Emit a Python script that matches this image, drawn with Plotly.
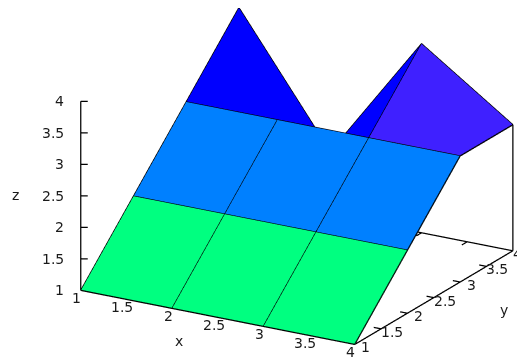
import plotly.graph_objects as go

x_vals = [1, 2, 3, 4]
y_vals = [1, 2, 3, 4]
z_rows = [
    [1, 1, 1, 1],
    [2, 2, 2, 2],
    [3, 3, 3, 3],
    [4, 2, 4, 3],
]
cell_colors = [
    ["#00ff80", "#00ff80", "#00ff80"],
    ["#0080ff", "#0080ff", "#0080ff"],
    ["#0000ff", "#0000ff", "#3f20ff"],
]
x_ticks = [1, 1.5, 2, 2.5, 3, 3.5, 4]
y_ticks = [1, 1.5, 2, 2.5, 3, 3.5, 4]
z_ticks = [1, 1.5, 2, 2.5, 3, 3.5, 4]
x_lo, x_hi = x_ticks[0], x_ticks[-1]
y_lo, y_hi = y_ticks[0], y_ticks[-1]
z_lo, z_hi = z_ticks[0], z_ticks[-1]

n = len(x_vals)
vx, vy, vz = [], [], []
for j, y in enumerate(y_vals):
    for i, x in enumerate(x_vals):
        vx.append(x); vy.append(y); vz.append(z_rows[j][i])
idx = lambda i, j: j * n + i
I, J, K, fc = [], [], [], []
for j in range(n - 1):
    for i in range(n - 1):
        a, b, c, d = idx(i, j), idx(i + 1, j), idx(i + 1, j + 1), idx(i, j + 1)
        I += [a, b]; J += [b, c]; K += [d, d]
        fc += [cell_colors[j][i]] * 2

ex, ey, ez = [], [], []
def seg(*pts):
    for p in pts:
        ex.append(p[0]); ey.append(p[1]); ez.append(p[2])
    ex.append(None); ey.append(None); ez.append(None)

for j in range(n):
    seg(*[(x_vals[i], y_vals[j], z_rows[j][i]) for i in range(n)])
for i in range(n):
    seg(*[(x_vals[i], y_vals[j], z_rows[j][i]) for j in range(n)])

# gnuplot style box: base lines, z axis, corner post up to the surface
seg((x_lo, y_lo, z_lo), (x_hi, y_lo, z_lo))
seg((x_hi, y_lo, z_lo), (x_hi, y_hi, z_lo))
seg((x_lo, y_hi, z_lo), (x_hi, y_hi, z_lo))
seg((x_lo, y_lo, z_lo), (x_lo, y_lo, z_hi))
seg((x_hi, y_hi, z_lo), (x_hi, y_hi, z_rows[-1][-1]))
# ticks pointing into the box
for v in y_ticks[1:-1]:
    seg((x_hi, v, z_lo), (x_hi - 0.08, v, z_lo))
for v in x_ticks[1:-1]:
    seg((v, y_hi, z_lo), (v, y_hi - 0.1, z_lo))
for v in z_ticks[1:]:
    seg((x_lo, y_lo, v), (x_lo + 0.0575, y_lo + 0.033, v))

fig = go.Figure()
fig.add_trace(go.Mesh3d(x=vx, y=vy, z=vz, i=I, j=J, k=K, facecolor=fc, flatshading=True,
                        lighting=dict(ambient=1, diffuse=0, specular=0, fresnel=0),
                        hoverinfo="skip", showscale=False))
fig.add_trace(go.Scatter3d(x=ex, y=ey, z=ez, mode="lines", line=dict(color="black", width=2.5),
                           hoverinfo="skip", showlegend=False))

PAD = 0.005
axis = dict(showbackground=False, showgrid=False, zeroline=False, showline=False,
            ticks="", showticklabels=False, showspikes=False, title=dict(text=""),
            autorange=False)
ann = []
FONT = dict(family="DejaVu Sans", size=14, color="#1a1a1a")
for v in x_ticks:
    ann.append(dict(x=v, y=y_lo, z=z_lo, text=str(v), showarrow=False, font=FONT, xshift=-4, yshift=-8))
for v in y_ticks[:-1]:
    ann.append(dict(x=x_hi, y=v, z=z_lo, text=str(v), showarrow=False, font=FONT, xshift=11, yshift=-3))
ann.append(dict(x=x_hi, y=y_ticks[-1], z=z_lo, text=str(y_ticks[-1]), showarrow=False, font=FONT,
                xanchor="right", xshift=11, yshift=-3))
for v in z_ticks:
    ann.append(dict(x=x_lo, y=y_lo, z=v, text=str(v), showarrow=False, font=FONT, xanchor="right", xshift=-15, yshift=0))
ann.append(dict(x=2.1, y=y_lo, z=z_lo, text="x", showarrow=False, font=FONT, xshift=-2, yshift=-31))
ann.append(dict(x=x_hi, y=3.3, z=z_lo, text="y", showarrow=False, font=FONT, xshift=28, yshift=-37))
ann.append(dict(x=x_lo, y=y_lo, z=2.5, text="z", showarrow=False, font=FONT, xshift=-65, yshift=1))

D = 1.8
Z = 1.767 * (3 + 2 * PAD) / 3
sx, sy, sz = -0.1169, -0.0916, -0.0574
fig.update_layout(
    width=525, height=358, margin=dict(l=0, r=0, t=0, b=0), paper_bgcolor="white",
    showlegend=False,
    scene=dict(
        domain=dict(x=[0, 1], y=[0, 1]),
        xaxis=dict(axis, range=[x_lo - PAD, x_hi + PAD]),
        yaxis=dict(axis, range=[y_lo - PAD, y_hi + PAD]),
        zaxis=dict(axis, range=[z_lo - PAD, z_hi + PAD]),
        aspectmode="manual", aspectratio=dict(x=Z, y=Z, z=0.636 * Z),
        camera=dict(projection=dict(type="orthographic"),
                    eye=dict(x=0.5 * 0.94 * D + sx, y=-0.866 * 0.94 * D + sy, z=0.342 * D + sz),
                    up=dict(x=0, y=0, z=1), center=dict(x=sx, y=sy, z=sz)),
        annotations=ann,
    ),
)
fig.write_html("out.html", config=dict(displayModeBar=False))
